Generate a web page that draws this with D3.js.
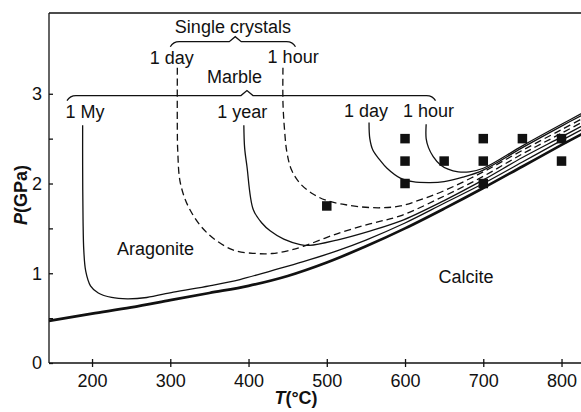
<!DOCTYPE html>
<html>
<script src="https://d3js.org/d3.v7.min.js"></script>
<style>
    body { margin: 0; background: #fff; }
    svg { display: block; }
    text { font-family: "Liberation Sans", Arial, Helvetica, sans-serif; font-size: 18px; fill: #111; }
    .axis path, .axis line { stroke: #111; stroke-width: 1.3; }
    .curve { fill: none; stroke: #111; stroke-width: 1.3; }
    .curve.heavy { stroke-width: 2.7; }
    .curve.dash { stroke-dasharray: 7, 4; }
</style>

<body>
    <svg width=581 height=412></svg>
    <script>
        // axis ticks
        const tTicks = [200, 300, 400, 500, 600, 700, 800];
        const pTicks = [0, 0.5, 1, 1.5, 2, 2.5, 3];
        const pLabels = [0, 1, 2, 3];

        // calcite = aragonite equilibrium (heavy line), [T degC, P GPa]
        const equilibrium = [[145, 0.47], [200, 0.55], [250, 0.62], [300, 0.70], [350, 0.78], [400, 0.86],
            [450, 0.97], [500, 1.12], [550, 1.30], [600, 1.50], [650, 1.72], [700, 1.95], [750, 2.19], [800, 2.43], [830, 2.57]];

        // marble transformation curves
        const marble1My = [[188, 2.65], [188, 2.2], [188.5, 1.6], [189.5, 1.25], [192, 1.02], [198, 0.86], [208, 0.78],
            [225, 0.73], [245, 0.715], [270, 0.73], [304, 0.79], [350, 0.86], [389, 0.93], [430, 1.03], [470, 1.13],
            [513, 1.25], [550, 1.37], [600, 1.56], [650, 1.78], [700, 2.0], [750, 2.24], [800, 2.48], [830, 2.62]];
        const marble1yr = [[394, 2.65], [395, 2.4], [398, 2.19], [406, 1.71], [417, 1.56], [428, 1.47], [445, 1.38],
            [466, 1.32], [478, 1.31], [513, 1.37], [555, 1.47], [594, 1.58], [650, 1.81], [700, 2.04], [750, 2.29], [800, 2.52], [830, 2.66]];
        const marble1day = [[554, 2.68], [555, 2.5], [559, 2.37], [568, 2.26], [577, 2.17], [594, 2.06], [610, 2.02],
            [632, 2.01], [650, 2.02], [674, 2.07], [700, 2.15], [750, 2.40], [800, 2.64], [830, 2.78]];
        const marble1hr = [[627, 2.66], [627, 2.5], [630, 2.40], [636, 2.30], [645, 2.21], [655, 2.16], [668, 2.13],
            [682, 2.13], [700, 2.17], [750, 2.42], [800, 2.66], [830, 2.80]];

        // single crystal curves (dashed)
        const crystal1day = [[309, 3.29], [309, 2.6], [309.5, 2.37], [313, 2.0], [325, 1.71], [347, 1.45], [380, 1.26],
            [410, 1.22], [430, 1.22], [450, 1.25], [470, 1.30], [513, 1.44], [555, 1.55], [594, 1.64], [650, 1.86],
            [700, 2.08], [750, 2.33], [800, 2.56], [830, 2.70]];
        const crystal1hr = [[444, 3.29], [444, 2.9], [446, 2.6], [449, 2.35], [455, 2.15], [466, 2.0], [483, 1.88],
            [500, 1.81], [520, 1.77], [543, 1.74], [570, 1.73], [594, 1.75], [620, 1.82], [650, 1.92], [700, 2.13],
            [750, 2.37], [800, 2.60], [830, 2.74]];

        // experiments
        const expT = [500, 600, 600, 600, 650, 700, 700, 700, 750, 800, 800];
        const expP = [1.75, 2.0, 2.25, 2.5, 2.25, 2.0, 2.25, 2.5, 2.5, 2.25, 2.5];

        // annotations [text, T, P]
        const labels = [
            ['Single crystals', 380, 3.68], ['1 day', 302, 3.33], ['1 hour', 457, 3.34],
            ['Marble', 382, 3.12], ['1 My', 191, 2.73], ['1 year', 392, 2.73], ['1 day', 550, 2.74], ['1 hour', 630, 2.74],
            ['Aragonite', 281, 1.20], ['Calcite', 678, 0.89]
        ];
        // braces [T from, T peak, T to, P]
        const braces = [[300, 383, 460, 3.58], [168, 398, 639, 2.98]];

        const svg = d3.select('svg');
        const x = d3.scaleLinear().domain([145, 830]).range([49, 585]);
        const y = d3.scaleLinear().domain([0, 3.9]).range([363, 13]);

        // frame top
        svg.append('line').attr('x1', x(145)).attr('x2', 581).attr('y1', y(3.9)).attr('y2', y(3.9))
            .attr('stroke', '#111').attr('stroke-width', 1.3);

        const xAxis = svg.append('g').attr('class', 'axis').attr('transform', 'translate(0,' + y(0) + ')')
            .call(d3.axisBottom(x).tickValues(tTicks).tickSize(4).tickPadding(7));
        xAxis.select('.domain').attr('d', 'M' + x(145) + ',0H581');
        xAxis.selectAll('.tick line').attr('y1', -4);

        const yAxis = svg.append('g').attr('class', 'axis').attr('transform', 'translate(' + x(145) + ',0)')
            .call(d3.axisLeft(y).tickValues(pTicks).tickSize(4).tickPadding(3)
                .tickFormat(d => pLabels.includes(d) ? d : ''));
        yAxis.select('.domain').attr('d', 'M0,' + y(0) + 'V' + y(3.9));
        yAxis.selectAll('.tick line').attr('x2', 4);
        svg.selectAll('.axis text').style('font-size', '18px').style('font-family', '"Liberation Sans", Arial, sans-serif').attr('fill', '#111');

        // axis titles
        const xt = svg.append('text').attr('x', 296).attr('y', 404).attr('text-anchor', 'middle').attr('font-weight', 'bold');
        xt.append('tspan').attr('font-style', 'italic').text('T');
        xt.append('tspan').text('(°C)');
        const yt = svg.append('text').attr('transform', 'translate(27,195) rotate(-90)').attr('text-anchor', 'middle').attr('font-weight', 'bold');
        yt.append('tspan').attr('font-style', 'italic').text('P');
        yt.append('tspan').text('(GPa)');

        const line = d3.line().x(d => x(d[0])).y(d => y(d[1])).curve(d3.curveCatmullRom.alpha(0.5));

        const g = svg.append('g');
        [marble1My, marble1yr, marble1day, marble1hr].forEach(c => {
            g.append('path').attr('class', 'curve').attr('d', line(c));
        });
        [crystal1day, crystal1hr].forEach(c => {
            g.append('path').attr('class', 'curve dash').attr('d', line(c));
        });
        g.append('path').attr('class', 'curve heavy').attr('d', line(equilibrium));

        // experiment squares
        const s = 9.5;
        g.selectAll('rect').data(expT).enter().append('rect')
            .attr('x', (d, i) => x(d) - s / 2)
            .attr('y', (d, i) => y(expP[i]) - s / 2)
            .attr('width', s).attr('height', s).attr('fill', '#111');

        // braces
        braces.forEach(b => {
            const x0 = x(b[0]), xm = x(b[1]), x1 = x(b[2]), yy = y(b[3]);
            const p = 'M' + x0 + ',' + (yy + 5) + 'Q' + (x0 + 3) + ',' + yy + ' ' + (x0 + 9) + ',' + yy +
                'H' + (xm - 6) + 'L' + xm + ',' + (yy - 5) + 'L' + (xm + 6) + ',' + yy +
                'H' + (x1 - 9) + 'Q' + (x1 - 3) + ',' + yy + ' ' + x1 + ',' + (yy + 5);
            svg.append('path').attr('d', p).attr('fill', 'none').attr('stroke', '#111').attr('stroke-width', 1.3);
        });

        svg.selectAll('.lbl').data(labels).enter().append('text')
            .attr('class', 'lbl')
            .attr('x', d => x(d[1])).attr('y', d => y(d[2]))
            .attr('text-anchor', 'middle')
            .text(d => d[0]);
    </script>
</body>

</html>
